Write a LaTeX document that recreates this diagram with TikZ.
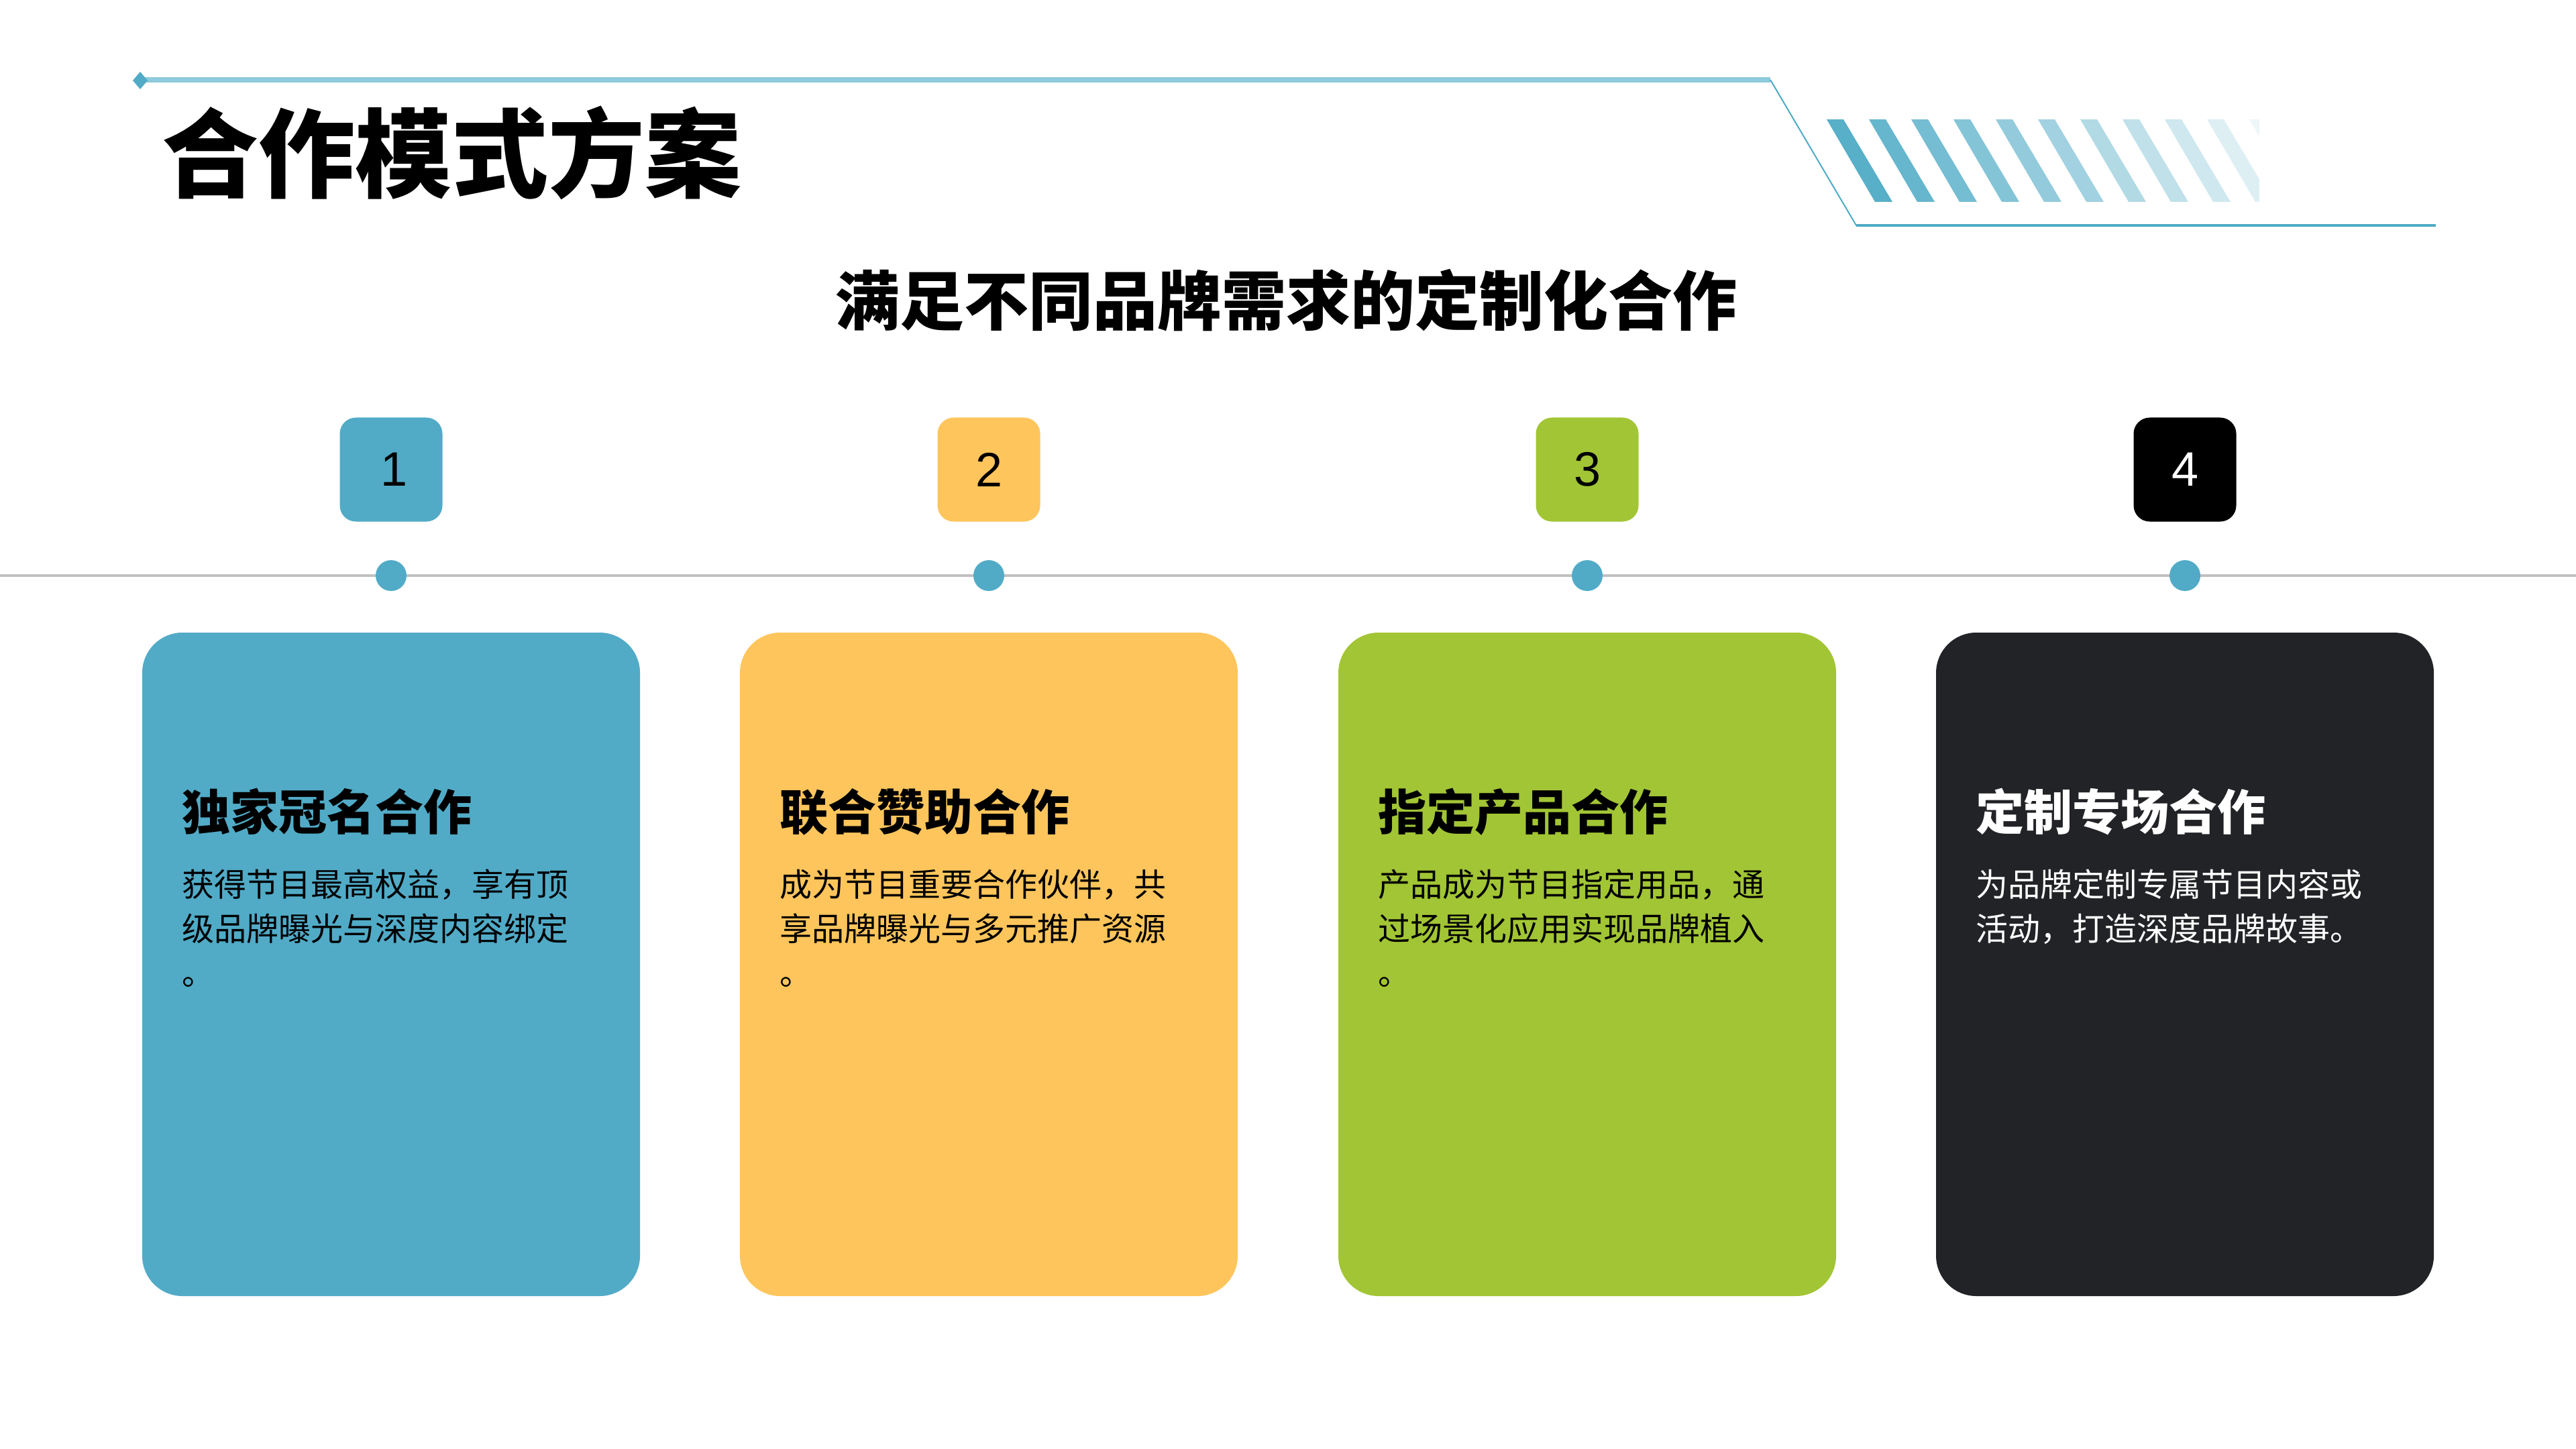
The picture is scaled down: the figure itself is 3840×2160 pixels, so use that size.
\documentclass[tikz,border=0pt]{standalone}
\usepackage{fontspec}
\setmainfont{Liberation Sans}
\newfontfamily\cjk{Noto Sans CJK SC}
\usetikzlibrary{shapes.geometric}
\definecolor{cblue}{HTML}{51ABC7}
\definecolor{cyellow}{HTML}{FEC55C}
\definecolor{cgreen}{HTML}{A2C535}
\definecolor{cdark}{HTML}{222326}
\definecolor{lineblue}{HTML}{8DCADB}
\definecolor{dblue}{HTML}{4FABC6}
\definecolor{grayline}{HTML}{C0C0C0}
\begin{document}
\begin{tikzpicture}[x=0.25pt,y=-0.25pt,
  card/.style={rounded corners=15pt, minimum width=185.5pt, minimum height=247.25pt, inner sep=0pt},
  numbox/.style={rounded corners=6pt, minimum width=38.25pt, minimum height=38.75pt, inner sep=0pt, font=\fontsize{18pt}{18pt}\selectfont},
  dot/.style={circle, fill=cblue, minimum size=11.5pt, inner sep=0pt},
  ctitle/.style={anchor=west, inner sep=0pt, font=\cjk\bfseries\fontsize{18pt}{18pt}\selectfont, text height=15.8pt, text depth=2.2pt},
  cbody/.style={anchor=west, inner sep=0pt, font=\cjk\fontsize{12pt}{12pt}\selectfont, text height=10.56pt, text depth=1.44pt},
]
\useasboundingbox (0,0) rectangle (3840,2160);
\fill[white] (0,0) rectangle (3840,2160);

% header decoration
\coordinate (hl0) at (215,119);
\coordinate (hl1) at (2639,119);
\coordinate (hl2) at (2767,336);
\coordinate (hl3) at (3631,336);
\draw[lineblue, line width=2pt] (hl0) -- (hl1);
\draw[dblue, line width=0.5pt] (hl1) -- (hl2);
\draw[dblue, line width=0.8pt] (hl2) -- (hl3);
\fill[cblue] (198,120) -- (209,107) -- (220,120) -- (209,133) -- cycle;

\begin{scope}
  \clip (2700,170) rectangle (3368,310);
  \foreach \i in {0,...,10}{
    \pgfmathsetmacro{\op}{0.95-0.085*\i}
    \fill[dblue, opacity=\op] (2723+63*\i,178) -- (2748+63*\i,178) -- (2821+63*\i,301) -- (2795+63*\i,301) -- cycle;
  }
\end{scope}

% titles
\node[anchor=west, inner sep=0pt, font=\cjk\bfseries\fontsize{36pt}{36pt}\selectfont, text height=31.7pt, text depth=4.3pt] (title) at (241,229) {合作模式方案};
\node[inner sep=0pt, font=\cjk\bfseries\fontsize{24pt}{24pt}\selectfont, text height=21.1pt, text depth=2.9pt] (subtitle) at (1917,448) {满足不同品牌需求的定制化合作};

% timeline
\coordinate (tlL) at (0,858);
\coordinate (tlR) at (3840,858);
\draw[grayline, line width=1pt] (tlL) -- (tlR);

% number boxes
\node[numbox, fill=cblue] (n1) at (583,700) {\hspace*{2.5pt}1};
\node[numbox, fill=cyellow] (n2) at (1474,700) {2};
\node[numbox, fill=cgreen] (n3) at (2366,700) {3};
\node[numbox, fill=black, text=white] (n4) at (3257,700) {4};

% dots
\node[dot] (d1) at (583,858) {};
\node[dot] (d2) at (1474,858) {};
\node[dot] (d3) at (2366,858) {};
\node[dot] (d4) at (3257,858) {};

% cards
\node[card, fill=cblue] (c1) at (583,1437.5) {};
\node[card, fill=cyellow] (c2) at (1474,1437.5) {};
\node[card, fill=cgreen] (c3) at (2366,1437.5) {};
\node[card, fill=cdark] (c4) at (3257,1437.5) {};

% card 1
\node[ctitle] (t1) at (271,1210) {独家冠名合作};
\node[cbody] (b1a) at (271,1318) {获得节目最高权益，享有顶};
\node[cbody] (b1b) at (271,1384) {级品牌曝光与深度内容绑定};
\node[cbody] (b1c) at (271,1450) {。};

% card 2
\node[ctitle] (t2) at (1162,1210) {联合赞助合作};
\node[cbody] (b2a) at (1162,1318) {成为节目重要合作伙伴，共};
\node[cbody] (b2b) at (1162,1384) {享品牌曝光与多元推广资源};
\node[cbody] (b2c) at (1162,1450) {。};

% card 3
\node[ctitle] (t3) at (2054,1210) {指定产品合作};
\node[cbody] (b3a) at (2054,1318) {产品成为节目指定用品，通};
\node[cbody] (b3b) at (2054,1384) {过场景化应用实现品牌植入};
\node[cbody] (b3c) at (2054,1450) {。};

% card 4
\node[ctitle, text=white] (t4) at (2945,1210) {定制专场合作};
\node[cbody, text=white] (b4a) at (2945,1318) {为品牌定制专属节目内容或};
\node[cbody, text=white] (b4b) at (2945,1384) {活动，打造深度品牌故事。};
\end{tikzpicture}
\end{document}
